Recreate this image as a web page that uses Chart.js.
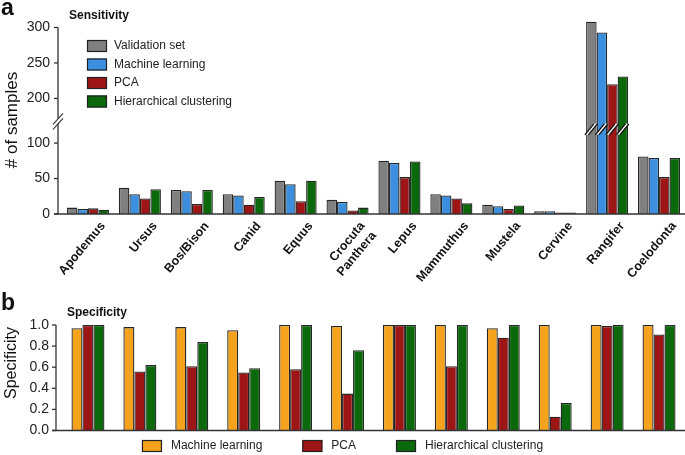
<!DOCTYPE html>
<html>
<head>
<meta charset="utf-8">
<script src="https://cdn.jsdelivr.net/npm/chart.js@4/dist/chart.umd.min.js"></script>
<style>
  body { margin: 0; background: #fff; }
  #wrap { position: relative; width: 685px; height: 455px; overflow: hidden; }
  .panel { position: absolute; left: 0; width: 685px; }
</style>
</head>
<body>
<div id="wrap">
  <div class="panel" style="top:0;height:292px"><canvas id="sens"></canvas></div>
  <div class="panel" style="top:285px;height:170px"><canvas id="spec"></canvas></div>
</div>
<script>
// values
const categories = ['Apodemus', 'Ursus', 'Bos/Bison', 'Canid', 'Equus', ['Crocuta', 'Panthera'],
  'Lepus', 'Mammuthus', 'Mustela', 'Cervine', 'Rangifer', 'Coelodonta'];

const validationSet = [9, 37, 34, 28, 47, 20, 75, 28, 13, 4, 308, 81];
const mlSens        = [7, 28, 32, 26, 42, 17, 72, 26, 11, 4, 293, 79];
const pcaSens       = [8, 22, 14, 13, 18, 5, 52, 22, 7, 2, 220, 52];
const hcSens        = [6, 35, 34, 24, 47, 9, 74, 15, 12, 2, 231, 79];

const mlSpec  = [0.97, 0.98, 0.98, 0.95, 1.00, 0.99, 1.00, 1.00, 0.97, 1.00, 1.00, 1.00];
const pcaSpec = [1.00, 0.56, 0.61, 0.55, 0.58, 0.35, 1.00, 0.61, 0.88, 0.13, 0.99, 0.91];
const hcSpec  = [1.00, 0.62, 0.84, 0.59, 1.00, 0.76, 1.00, 1.00, 1.00, 0.26, 1.00, 1.00];

const sensTicks = [0, 50, 100, 200, 250, 300];
const specTicks = [0, 0.2, 0.4, 0.6, 0.8, 1.0];
const axisBreak = [125, 162];   // values between these are cut out of panel a

const FONT = "'Liberation Sans', Arial, sans-serif";
Chart.defaults.font.family = FONT;
Chart.defaults.color = '#222';

const GRAY = '#808080', BLUE = '#3b8fde', RED = '#9e1515', GREEN = '#0b690b', ORANGE = '#f5a21c';

// linear scale with a gap cut out of it
class BrokenScale extends Chart.LinearScale {
  squeeze(v) {
    const [lo, hi] = this.options.cut;
    if (v <= lo) return v;
    if (v >= hi) return v - (hi - lo);
    return lo;
  }
  getPixelForValue(value) {
    if (value === null) return NaN;
    const a = this.squeeze(this.min), b = this.squeeze(this.max);
    return this.getPixelForDecimal((this.squeeze(value) - a) / (b - a));
  }
  getValueForPixel(pixel) {
    const [lo, hi] = this.options.cut;
    const a = this.squeeze(this.min), b = this.squeeze(this.max);
    const t = a + this.getDecimalForPixel(pixel) * (b - a);
    return t <= lo ? t : t + (hi - lo);
  }
}
BrokenScale.id = 'broken';
BrokenScale.defaults = {};
Chart.register(BrokenScale);

function line(ctx, x1, y1, x2, y2) {
  ctx.beginPath(); ctx.moveTo(x1, y1); ctx.lineTo(x2, y2); ctx.stroke();
}

// axis lines, tick marks and break marks
const axisLines = {
  id: 'axisLines',
  afterDatasetsDraw(chart, args, o) {
    const { ctx, chartArea, scales: { y } } = chart;
    const ax = chartArea.left - o.inset;
    const bottom = y.getPixelForValue(0);
    const top = y.getPixelForValue(y.ticks[y.ticks.length - 1].value);
    ctx.save();
    ctx.strokeStyle = '#333';
    ctx.lineWidth = 1.3;
    y.ticks.forEach(t => {
      const py = y.getPixelForValue(t.value);
      line(ctx, ax - 4, py, ax, py);
    });
    line(ctx, ax - 4, bottom, chartArea.right, bottom);
    if (o.cut) {
      const bp = y.getPixelForValue(o.cut[0]) - 4;
      line(ctx, ax, top, ax, bp - 2.5);
      line(ctx, ax, bp + 2.5, ax, bottom);
      ctx.lineWidth = 1.1;
      line(ctx, ax - 5, bp - 2.5 + 5.5, ax + 5, bp - 2.5 - 5.5);
      line(ctx, ax - 5, bp + 2.5 + 5.5, ax + 5, bp + 2.5 - 5.5);
      // bars running through the break get a "//" mark
      const by = y.getPixelForValue(o.cut[0]) + 4;
      chart.data.datasets.forEach((ds, di) => {
        chart.getDatasetMeta(di).data.forEach((bar, i) => {
          if (ds.data[i] <= o.cut[1]) return;
          const cx = bar.x;
          ctx.fillStyle = '#fff';
          ctx.beginPath();
          ctx.moveTo(cx - 6.5, by + 5.5); ctx.lineTo(cx + 2.5, by - 5.5);
          ctx.lineTo(cx + 6, by - 5.5); ctx.lineTo(cx - 3, by + 5.5);
          ctx.closePath(); ctx.fill();
          ctx.strokeStyle = '#111';
          ctx.lineWidth = 1.4;
          line(ctx, cx - 6.5, by + 5.5, cx + 2.5, by - 5.5);
          line(ctx, cx - 3, by + 5.5, cx + 6, by - 5.5);
        });
      });
    } else {
      line(ctx, ax, top, ax, bottom);
    }
    ctx.restore();
  }
};

// legend with boxes drawn from the datasets
const boxLegend = {
  id: 'boxLegend',
  afterDraw(chart, args, o) {
    const ctx = chart.ctx;
    const sets = chart.data.datasets;
    ctx.save();
    ctx.font = '12px ' + FONT;
    ctx.textBaseline = 'middle';
    let x = o.x, y = o.y;
    if (o.centered) {
      let total = o.gap * (sets.length - 1);
      sets.forEach(ds => { total += 20 + o.textGap + ctx.measureText(ds.label).width; });
      x = (chart.width - total) / 2;
    }
    sets.forEach(ds => {
      ctx.fillStyle = ds.backgroundColor;
      ctx.fillRect(x, y - 6, 20, 12);
      ctx.strokeStyle = '#222';
      ctx.lineWidth = 1.2;
      ctx.strokeRect(x + 0.5, y - 5.5, 19, 11);
      ctx.fillStyle = '#222';
      ctx.fillText(ds.label, x + 20 + o.textGap, y);
      if (o.vertical) y += o.step;
      else x += 20 + o.textGap + ctx.measureText(ds.label).width + o.gap;
    });
    ctx.restore();
  }
};

// panel letters, subtitles and axis titles
const freeText = {
  id: 'freeText',
  afterDraw(chart, args, o) {
    const ctx = chart.ctx;
    o.items.forEach(t => {
      ctx.save();
      ctx.font = t.font + ' ' + FONT;
      ctx.fillStyle = '#111';
      ctx.textAlign = t.align || 'left';
      ctx.textBaseline = t.baseline || 'middle';
      ctx.translate(t.x, t.y);
      if (t.rotate) ctx.rotate(t.rotate * Math.PI / 180);
      ctx.fillText(t.text, 0, 0);
      ctx.restore();
    });
  }
};

const barStyle = { borderWidth: 1.3, borderColor: '#262626', borderSkipped: 'start' };

new Chart(document.getElementById('sens'), {
  type: 'bar',
  data: {
    labels: categories,
    datasets: [
      { label: 'Validation set', data: validationSet, backgroundColor: GRAY, ...barStyle },
      { label: 'Machine learning', data: mlSens, backgroundColor: BLUE, ...barStyle },
      { label: 'PCA', data: pcaSens, backgroundColor: RED, ...barStyle },
      { label: 'Hierarchical clustering', data: hcSens, backgroundColor: GREEN, ...barStyle }
    ]
  },
  options: {
    animation: false,
    responsive: true,
    maintainAspectRatio: false,
    layout: { padding: { top: 7, left: 0, right: 0, bottom: 0 } },
    datasets: { bar: { categoryPercentage: 0.81, barPercentage: 1 } },
    plugins: {
      legend: { display: false },
      tooltip: { enabled: false },
      axisLines: { inset: 4, cut: axisBreak },
      boxLegend: { x: 87, y: 46, step: 18.5, textGap: 7, vertical: true },
      freeText: {
        items: [
          { text: 'a', x: 1, y: 15, font: 'bold 23px', baseline: 'alphabetic' },
          { text: 'Sensitivity', x: 69, y: 15.5, font: 'bold 12px' },
          { text: '# of samples', x: 12.5, y: 120, font: '17px', rotate: -90, align: 'center' }
        ]
      }
    },
    scales: {
      x: {
        grid: { display: false, drawTicks: false },
        border: { display: false },
        ticks: {
          minRotation: 50, maxRotation: 50, autoSkip: false,
          padding: 5, labelOffset: 15,
          font: { size: 12.5, weight: 'bold' }, color: '#111'
        },
        afterFit: s => { s.height = 78; }
      },
      y: {
        type: 'broken',
        cut: axisBreak,
        min: 0, max: 310,
        grid: { display: false, drawTicks: false },
        border: { display: false },
        ticks: { padding: 12, font: { size: 14 }, color: '#222' },
        afterBuildTicks: s => { s.ticks = sensTicks.map(v => ({ value: v })); },
        afterFit: s => { s.width = 62; }
      }
    }
  },
  plugins: [axisLines, boxLegend, freeText]
});

new Chart(document.getElementById('spec'), {
  type: 'bar',
  data: {
    labels: categories,
    datasets: [
      { label: 'Machine learning', data: mlSpec, backgroundColor: ORANGE, ...barStyle },
      { label: 'PCA', data: pcaSpec, backgroundColor: RED, ...barStyle },
      { label: 'Hierarchical clustering', data: hcSpec, backgroundColor: GREEN, ...barStyle }
    ]
  },
  options: {
    animation: false,
    responsive: true,
    maintainAspectRatio: false,
    layout: { padding: { top: 40, left: 0, right: 0, bottom: 0 } },
    datasets: { bar: { categoryPercentage: 0.635, barPercentage: 1 } },
    plugins: {
      legend: { display: false },
      tooltip: { enabled: false },
      axisLines: { inset: 6 },
      boxLegend: { y: 161, textGap: 9, gap: 40, centered: true },
      freeText: {
        items: [
          { text: 'b', x: 1, y: 25, font: 'bold 23px', baseline: 'alphabetic' },
          { text: 'Specificity', x: 67, y: 28, font: 'bold 12px' },
          { text: 'Specificity', x: 12, y: 78, font: '16px', rotate: -90, align: 'center' }
        ]
      }
    },
    scales: {
      x: {
        grid: { display: false, drawTicks: false },
        border: { display: false },
        ticks: { display: false },
        afterFit: s => { s.height = 24.5; }
      },
      y: {
        min: 0, max: 1,
        grid: { display: false, drawTicks: false },
        border: { display: false },
        ticks: { padding: 13, font: { size: 14 }, color: '#222', callback: v => v.toFixed(1) },
        afterBuildTicks: s => { s.ticks = specTicks.map(v => ({ value: v })); },
        afterFit: s => { s.width = 62; }
      }
    }
  },
  plugins: [axisLines, boxLegend, freeText]
});
</script>
</body>
</html>
